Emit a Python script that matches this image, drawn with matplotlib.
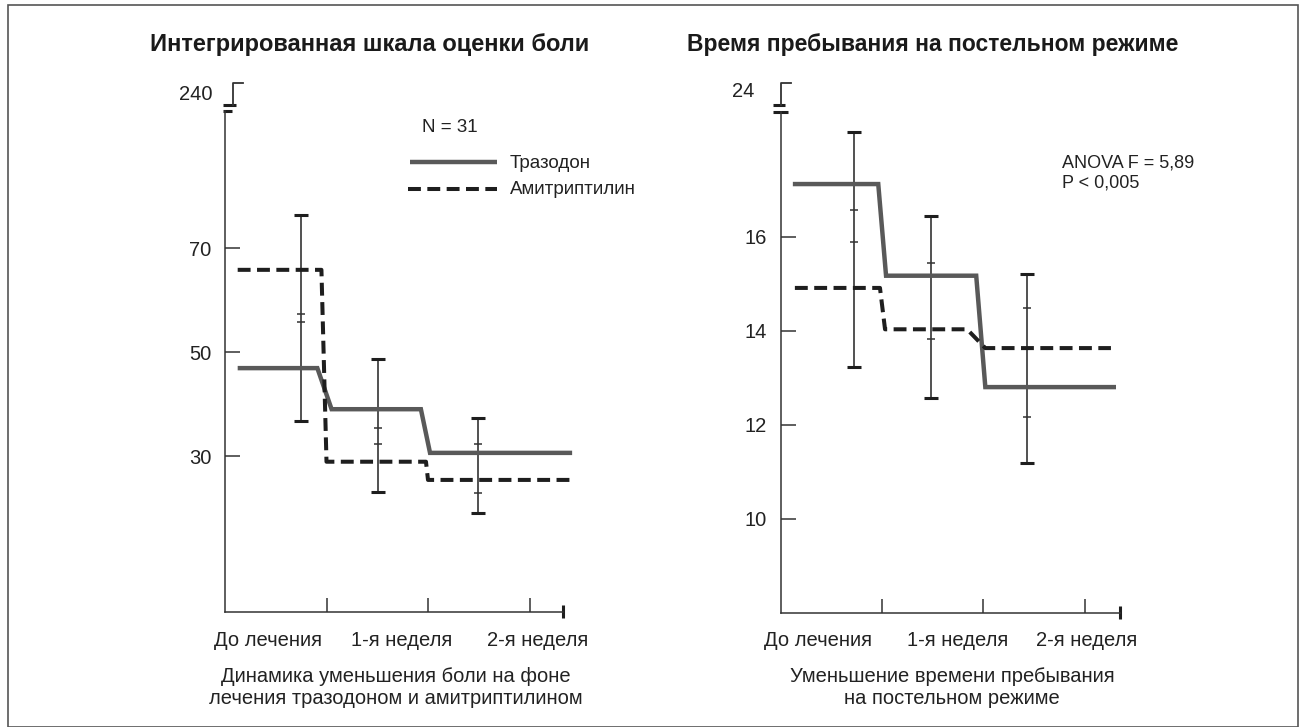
import matplotlib
matplotlib.use('Agg')
import matplotlib.pyplot as plt
from matplotlib.lines import Line2D
from matplotlib.patches import Rectangle

plt.rcParams['font.family'] = ['Liberation Sans', 'DejaVu Sans']

W, H = 1303, 727

# ---- data ----
periods = ['До лечения', '1-я неделя', '2-я неделя']
series = ['Тразодон', 'Амитриптилин']

# left panel: integrated pain score
pain_trazodone = [46.9, 39.0, 30.6]
pain_amitriptyline = [65.8, 28.9, 25.4]
pain_err_hi = [76.3, 48.6, 37.3]
pain_err_lo = [36.8, 23.0, 19.0]
pain_err_inner = [[57.3, 55.8], [35.4, 32.4], [32.4, 22.9]]
pain_yticks = [30, 50, 70]

# right panel: time in bed, hours
bed_trazodone = [17.12, 15.17, 12.80]
bed_amitriptyline = [14.91, 14.03, 13.63]
bed_err_hi = [18.23, 16.45, 15.21]
bed_err_lo = [13.23, 12.57, 11.19]
bed_err_inner = [[16.57, 15.89], [15.45, 13.82], [14.48, 12.16]]
bed_yticks = [10, 12, 14, 16]

GRAY = '#595959'
DARK = '#1e1e1e'
AXC = '#333333'
TXT = '#222222'

fig = plt.figure(figsize=(W / 100, H / 100), dpi=100)
fig.add_artist(Rectangle((8 / W, 0.0), 1290 / W, 1 - 5 / H, transform=fig.transFigure,
                         fill=False, edgecolor='#555555', lw=1.2))


def fx(px):
    return px / W


def fy(py):
    return 1 - py / H


def make_panel(spine_x, base_y, ppx, ppy, y0, top_y, right_x, x_end):
    ax = fig.add_axes([fx(spine_x), fy(base_y), (right_x - spine_x) / W, (base_y - 40) / H])
    ax.set_xlim(0, (right_x - spine_x) / ppx)
    ax.set_ylim(y0, y0 + (base_y - 40) / ppy)
    for s in ['top', 'right']:
        ax.spines[s].set_visible(False)
    y_top = y0 + (base_y - top_y) / ppy
    ax.spines['left'].set_bounds(y0, y_top)
    ax.spines['bottom'].set_bounds(0, x_end)
    for s in ['left', 'bottom']:
        ax.spines[s].set_color(AXC)
        ax.spines[s].set_linewidth(1.1)
    ax.set_xticks([1, 2, 3])
    ax.set_xticklabels([])
    ax.tick_params(axis='x', direction='in', length=10, width=1.1, color=AXC)
    ax.tick_params(axis='y', direction='in', length=11, width=1.1, color=AXC,
                   labelsize=14.5, pad=10, labelcolor=TXT)
    # bold end tick on the x axis
    ax.plot([x_end, x_end], [y0 - 6 / ppy, y0 + 7 / ppy], color=DARK, lw=2.2,
            clip_on=False, solid_capstyle='butt')
    return ax, y_top


def axis_break(ax, ppx, ppy, y_top, dx_marks, dx_gamma, label, label_dx, label_dy):
    # small axis-break marks and the "Г" at the top of the y axis
    d = lambda p: p / ppx
    v = lambda p: p / ppy
    ax.plot([d(dx_marks[0]), d(dx_marks[1])], [y_top, y_top], color=DARK, lw=2.2,
            clip_on=False, solid_capstyle='butt')
    ya = y_top + v(6.5)
    ax.plot([d(dx_marks[2]), d(dx_marks[3])], [ya, ya], color=DARK, lw=2.2,
            clip_on=False, solid_capstyle='butt')
    yb = ya + v(22)
    ax.plot([d(dx_gamma), d(dx_gamma), d(dx_gamma + 10)], [ya, yb, yb], color=AXC, lw=1.3,
            clip_on=False)
    ax.text(d(label_dx), y_top + v(label_dy), label, ha='right', va='center',
            fontsize=14.5, color=TXT)


def step_line(ax, levels, x_start, x_end, trans, **kw):
    xs, ys = [x_start], [levels[0]]
    for i, (a, b) in enumerate(trans):
        xs += [a, b]
        ys += [levels[i], levels[i + 1]]
    xs.append(x_end)
    ys.append(levels[-1])
    ax.plot(xs, ys, clip_on=False, **kw)


def err_bars(ax, xs, lo, hi, inner):
    ax.vlines(xs, lo, hi, color=AXC, lw=1.2)
    ax.plot(xs, hi, ls='none', marker='_', ms=10, mew=2.2, color=DARK)
    ax.plot(xs, lo, ls='none', marker='_', ms=10, mew=2.2, color=DARK)
    for x, pts in zip(xs, inner):
        ax.plot([x] * len(pts), pts, ls='none', marker='_', ms=6, mew=1.1, color=AXC)


solid_kw = dict(color=GRAY, lw=3.2, solid_joinstyle='miter', solid_capstyle='butt')
dash_kw = dict(color=DARK, lw=2.9, dashes=(3.2, 1.6), dash_capstyle='butt')

# ---- left panel ----
axL, topL = make_panel(225, 612, 101.5, 5.2, 0, 111, 600, 3.33)
axL.set_yticks(pain_yticks)
axis_break(axL, 101.5, 5.2, topL, (-2, 7, -2, 11), 8, '240', -13, 16)
err_bars(axL, [0.75, 1.51, 2.49], pain_err_lo, pain_err_hi, pain_err_inner)
step_line(axL, pain_trazodone, 0.125, 3.42, [(0.91, 1.05), (1.93, 2.02)], **solid_kw)
step_line(axL, pain_amitriptyline, 0.125, 3.42, [(0.95, 1.0), (1.98, 2.0)], **dash_kw)
for x, lab in zip([0.42, 1.74, 3.08], periods):
    axL.text(x, -28 / 5.2, lab, ha='center', va='center', fontsize=14.5, color=TXT)
fig.text(fx(396), fy(688),
         'Динамика уменьшения боли на фоне\nлечения тразодоном и амитриптилином',
         ha='center', va='center', fontsize=14.5, color=TXT, linespacing=1.2)
fig.text(fx(370), fy(45), 'Интегрированная шкала оценки боли', fontsize=17,
         fontweight='bold', color='#1a1a1a', ha='center', va='center')

# legend (N = 31)
fig.text(fx(450), fy(127), 'N = 31', ha='center', va='center', fontsize=13.5, color=TXT)
fig.add_artist(Line2D([fx(410), fx(497)], [fy(162), fy(162)], transform=fig.transFigure,
                      **solid_kw))
fig.add_artist(Line2D([fx(408), fx(497)], [fy(189), fy(189)], transform=fig.transFigure,
                      **dash_kw))
fig.text(fx(510), fy(163), series[0], ha='left', va='center', fontsize=13.5, color=TXT)
fig.text(fx(510), fy(190), series[1], ha='left', va='center', fontsize=13.5, color=TXT)

# ---- right panel ----
axR, topR = make_panel(780.7, 612.7, 101.3, 47, 8, 111.7, 1150, 3.35)
axR.set_yticks(bed_yticks)
axis_break(axR, 101.3, 47, topR, (-8, 7, -8, 4), 0, '24', -26, 20)
err_bars(axR, [0.72, 1.48, 2.43], bed_err_lo, bed_err_hi, bed_err_inner)
step_line(axR, bed_trazodone, 0.12, 3.31, [(0.963, 1.04), (1.93, 2.02)], **solid_kw)
step_line(axR, bed_amitriptyline, 0.14, 3.26, [(0.98, 1.03), (1.84, 2.02)], **dash_kw)
for x, lab in zip([0.37, 1.745, 3.02], periods):
    axR.text(x, 8 - 28 / 47, lab, ha='center', va='center', fontsize=14.5, color=TXT)
fig.text(fx(952), fy(688), 'Уменьшение времени пребывания\nна постельном режиме',
         ha='center', va='center', fontsize=14.5, color=TXT, linespacing=1.2)
fig.text(fx(933), fy(45), 'Время пребывания на постельном режиме', fontsize=16.5,
         fontweight='bold', color='#1a1a1a', ha='center', va='center')
fig.text(fx(1062), fy(173), 'ANOVA F = 5,89\nP < 0,005', ha='left', va='center',
         fontsize=13, color=TXT, linespacing=1.2)

fig.savefig('out.png', dpi=100)
